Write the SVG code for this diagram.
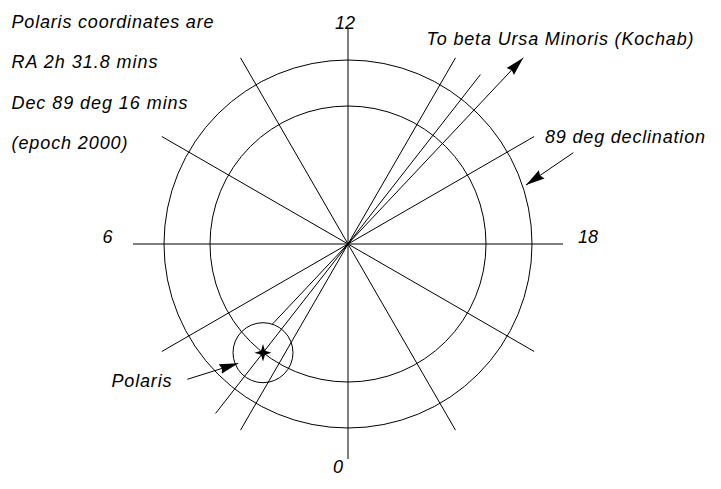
<svg xmlns="http://www.w3.org/2000/svg" width="721" height="489" viewBox="0 0 721 489">
  <style>
    .ln { stroke: #000; stroke-width: 1; fill: none; }
    .t { font-family: "Liberation Sans", Arial, sans-serif; font-style: italic; font-size: 18px; fill: #000; }
  </style>
  <defs>
    <marker id="ah" markerUnits="userSpaceOnUse" markerWidth="22" markerHeight="14" viewBox="0 0 22 14" refX="19" refY="7" orient="auto">
      <path d="M0,2 L19,7 L0,12 L2,7 Z" fill="#000"/>
    </marker>
  </defs>
  <rect width="721" height="489" fill="#fff"/>

  <g id="circles">
    <circle class="ln" cx="348" cy="244" r="184"/>
    <circle class="ln" cx="348" cy="244" r="138"/>
    <circle class="ln" cx="263" cy="352.7" r="30"/>
  </g>

  <g id="connectors">
    <line class="ln" x1="348" y1="29" x2="348" y2="459"/>
    <line class="ln" x1="133" y1="244" x2="563" y2="244"/>
    <line class="ln" x1="455.5" y1="57.8" x2="240.5" y2="430.2"/>
    <line class="ln" x1="240.5" y1="57.8" x2="455.5" y2="430.2"/>
    <line class="ln" x1="534.2" y1="136.5" x2="161.8" y2="351.5"/>
    <line class="ln" x1="161.8" y1="136.5" x2="534.2" y2="351.5"/>
    <line class="ln" x1="480.4" y1="74.6" x2="215.6" y2="413.4"/>
    <line class="ln" x1="272.5" y1="324" x2="523.3" y2="57.7" marker-end="url(#ah)"/>
    <line class="ln" x1="573.3" y1="152.7" x2="526" y2="185" marker-end="url(#ah)"/>
    <line class="ln" x1="187.3" y1="379.3" x2="238.3" y2="363.3" marker-end="url(#ah)"/>
  </g>

  <g id="polaris-star">
    <path d="M263,344 L265,350.7 L271.5,352.7 L265,354.7 L263,361.5 L261,354.7 L254.5,352.7 L261,350.7 Z" fill="#000"/>
    <circle cx="263" cy="352.7" r="2.8" fill="#000"/>
  </g>

  <g id="labels">
    <text class="t" x="11.5" y="27.5" textLength="202" lengthAdjust="spacing">Polaris coordinates are</text>
    <text class="t" x="11.5" y="68.3" textLength="146" lengthAdjust="spacing">RA 2h 31.8 mins</text>
    <text class="t" x="11.5" y="109.3" textLength="176" lengthAdjust="spacing">Dec 89 deg 16 mins</text>
    <text class="t" x="11.5" y="149" textLength="116" lengthAdjust="spacing">(epoch 2000)</text>
    <text class="t" x="426.5" y="45" textLength="267" lengthAdjust="spacing">To beta Ursa Minoris (Kochab)</text>
    <text class="t" x="545" y="143.3" textLength="160" lengthAdjust="spacing">89 deg declination</text>
    <text class="t" x="111.5" y="386.7" textLength="60" lengthAdjust="spacing">Polaris</text>
    <text class="t" x="335" y="29.3">12</text>
    <text class="t" x="333" y="473.3">0</text>
    <text class="t" x="102.5" y="243.3">6</text>
    <text class="t" x="578" y="243.3">18</text>
  </g>
</svg>
